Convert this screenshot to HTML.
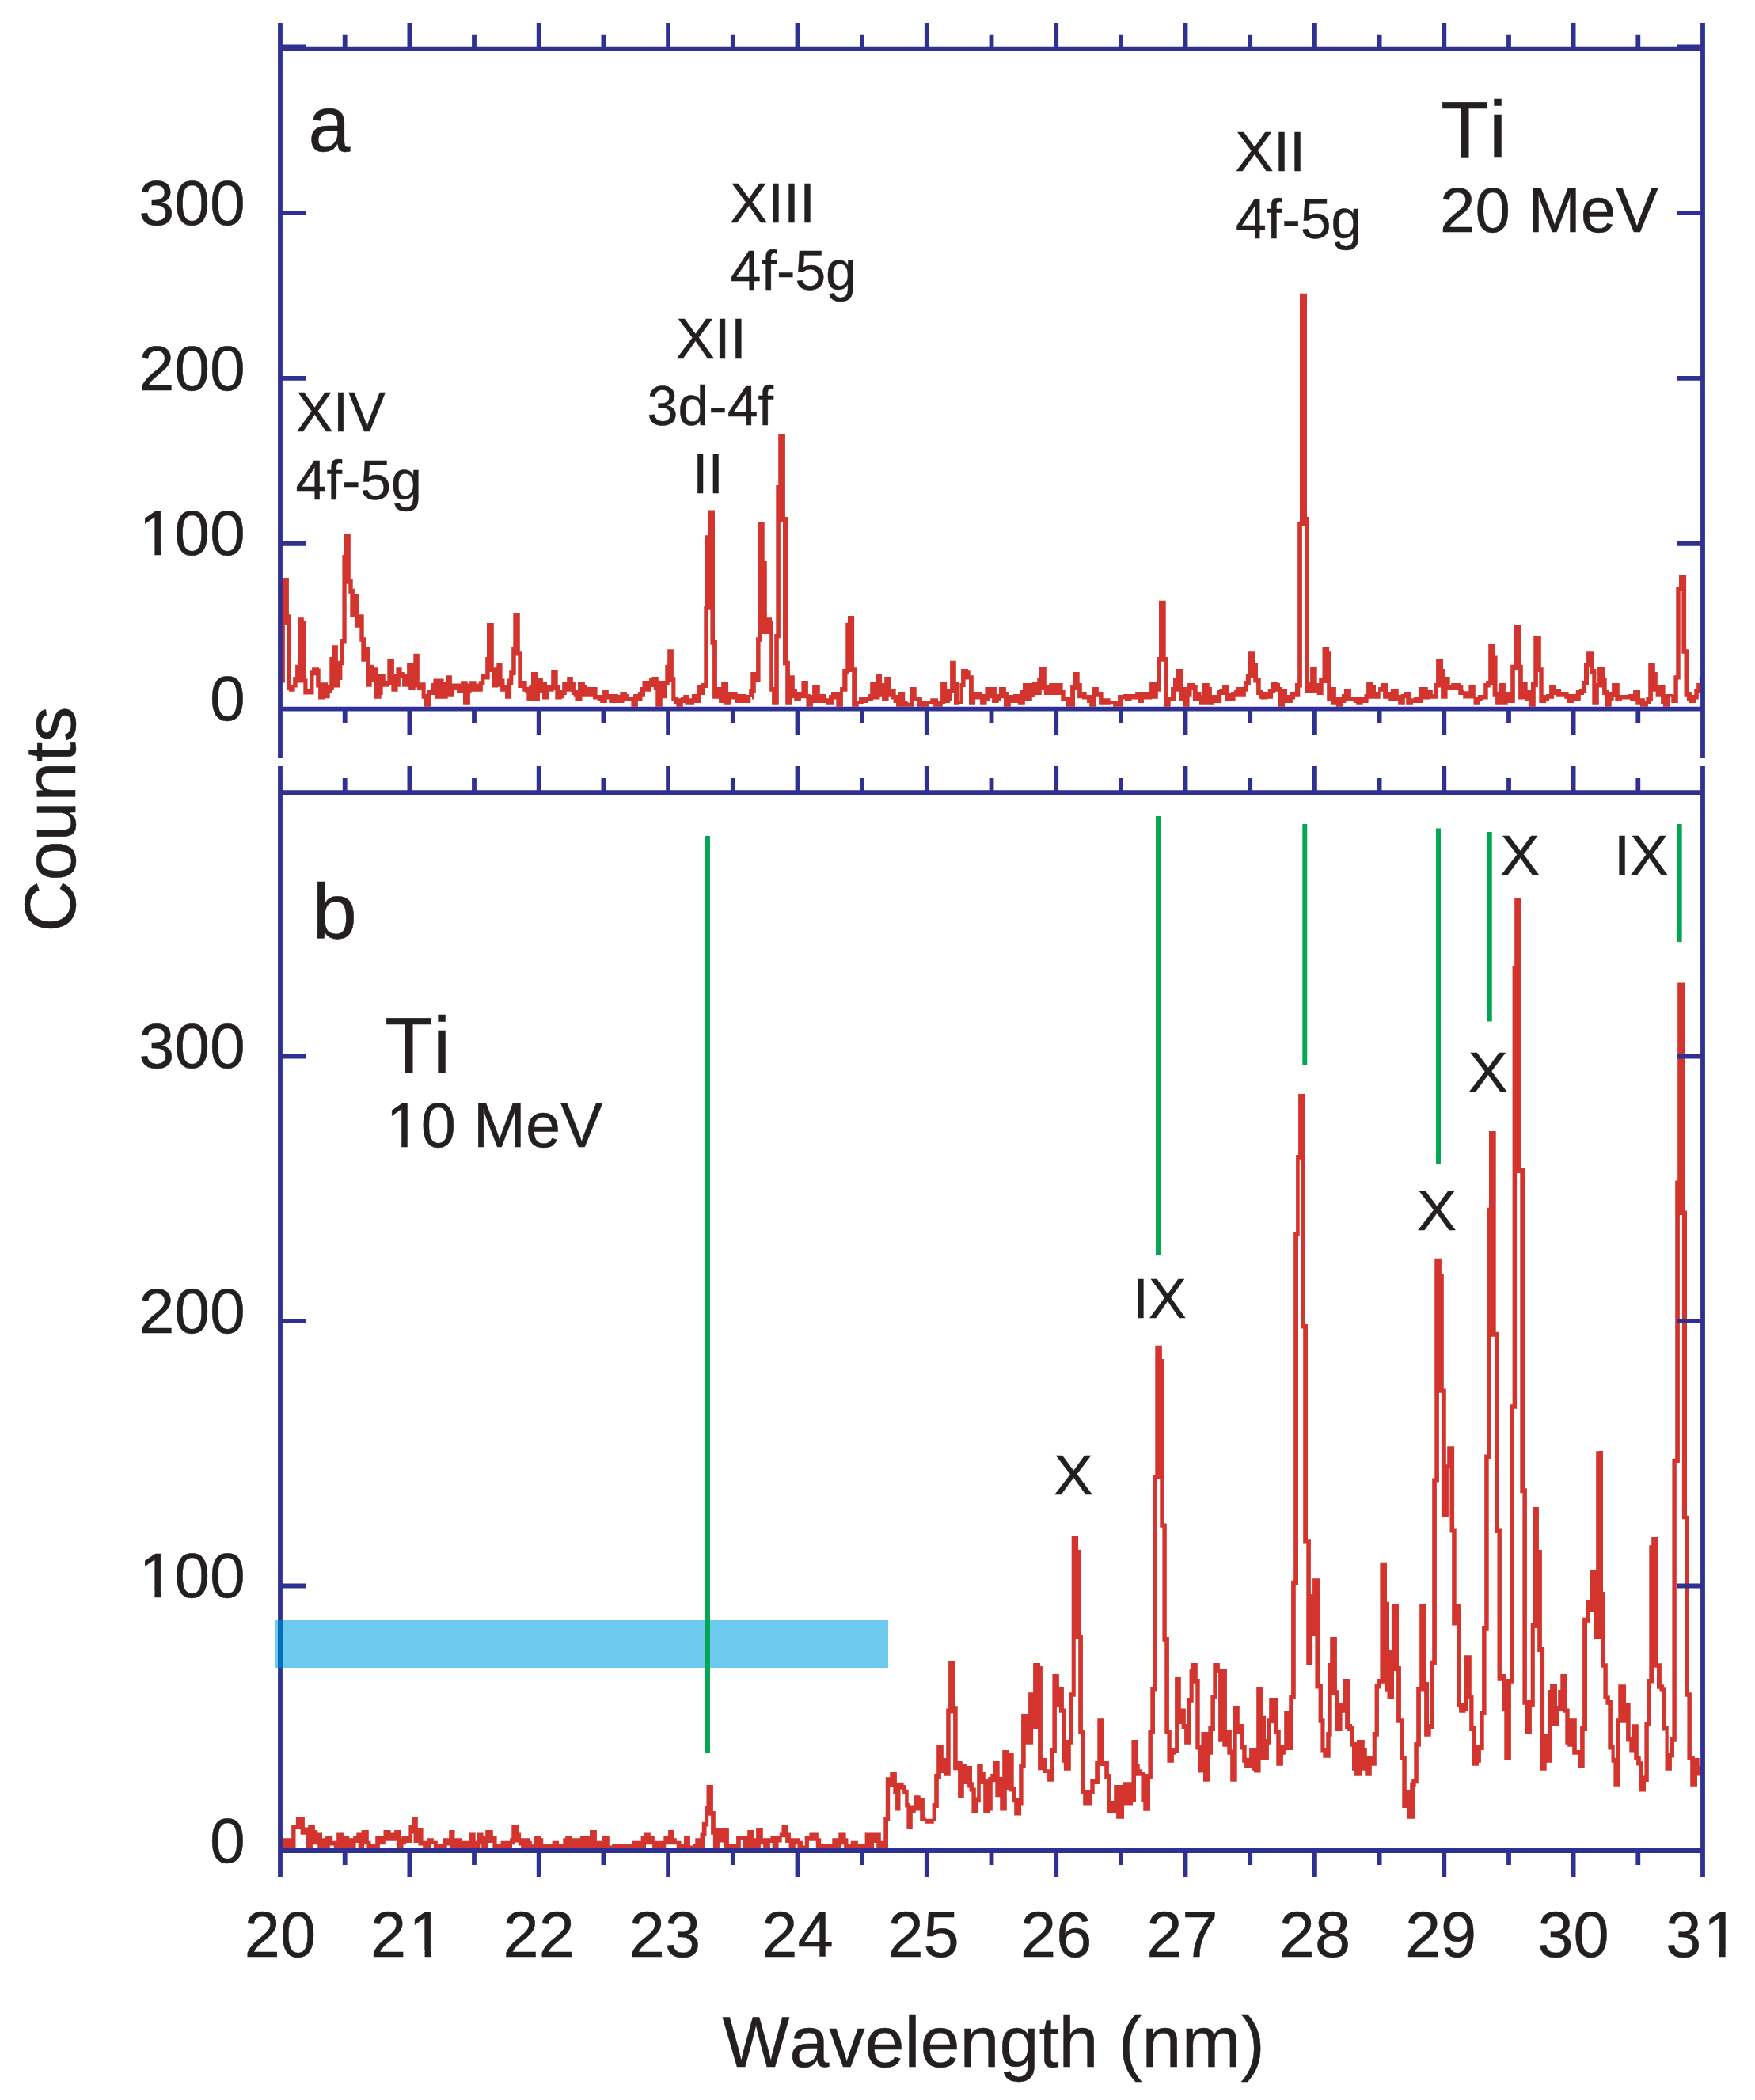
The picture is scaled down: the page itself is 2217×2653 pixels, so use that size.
<!DOCTYPE html>
<html><head><meta charset="utf-8"><title>Ti spectra</title>
<style>html,body{margin:0;padding:0;background:#fff}svg{display:block}</style></head>
<body>
<svg width="2217" height="2653" viewBox="0 0 2217 2653">
<rect width="2217" height="2653" fill="#fff"/>
<rect x="347" y="2046" width="775" height="61" fill="#6fcaf0"/>
<path d="M894 1056V2214M1463 1031V1585M1648.3 1041V1346M1817 1046.5V1470M1881.8 1051V1290.5M2121.7 1041V1190" stroke="#00a650" stroke-width="5.9" fill="none"/>
<path d="M354 730.1L364.9 730.1L364.9 776.2L367.9 776.2L367.9 866L370.2 866L370.2 854.9L373.1 854.9L373.1 839.8L376 839.8L376 780.2L383.8 780.2L383.8 784.3L386.8 784.3L386.8 857.4L388.5 857.4L388.5 870.3L391.5 870.3L391.5 847.2L394.1 847.2L394.1 843.2L403 843.2L403 844.6L404.7 844.6L404.7 862.2L414.1 862.2L414.1 866L416.3 866L416.3 830.1L419.2 830.1L419.2 815.2L426.9 815.2L426.9 834.7L429.5 834.7L429.5 807L432.4 807L432.4 701L434.1 701L434.1 674L442.8 674L442.8 732.1L445.7 732.1L445.7 743.8L447.9 743.8L447.9 751.1L453.8 751.1L453.8 776.2L459.7 776.2L459.7 805.3L462 805.3L462 818.1L467.9 818.1L467.9 839.8L472.7 839.8L472.7 843.2L477.9 843.2L477.9 851.1L486.8 851.1L486.8 860L489.3 860L489.3 832.1L497.9 832.1L497.9 851.1L500.4 851.1L500.4 843.2L507.6 843.2L507.6 848.9L510.7 848.9L510.7 851.1L514.1 851.1L514.1 838.1L522.3 838.1L522.3 825.8L529.8 825.8L529.8 862.2L537.7 862.2L537.7 877.1L539.4 877.1L539.4 872L544.5 872L544.5 863.1L547.4 863.1L547.4 857.4L560.6 857.4L560.6 861.7L563.3 861.7L563.3 853.2L570.9 853.2L570.9 863.4L582.1 863.4L582.1 860.3L590.7 860.3L590.7 863.4L593.1 863.4L593.1 860.3L601.6 860.3L601.6 863.4L604.7 863.4L604.7 860.3L607.3 860.3L607.3 851.1L613.2 851.1L613.2 830.1L615 830.1L615 787L623.8 787L623.8 843.2L627.3 843.2L627.3 837.3L634.6 837.3L634.6 857.4L637.5 857.4L637.5 866L640.6 866L640.6 857.4L643.2 857.4L643.2 847.2L646.2 847.2L646.2 818.1L648.3 818.1L648.3 774.2L650 774.2L656.8 774.2L656.8 823.2L659.7 823.2L659.7 860L665.7 860L665.7 867.7L668.3 867.7L668.3 866L671 866L671 848.9L679.9 848.9L679.9 856.9L685.9 856.9L685.9 862.1L691 862.1L691 866L696.2 866L696.2 846.8L704.7 846.8L704.7 866L707.3 866L707.3 872L710.2 872L710.2 862.1L716.2 862.1L716.2 854.9L723.8 854.9L723.8 862.1L726.9 862.1L726.9 872L730 872L730 862.1L738.9 862.1L738.9 866L741.5 866L741.5 868L754.6 868L754.6 877.9L761.1 877.9L761.1 872L768.8 872L768.8 877.1L780.8 877.1L780.8 877.9L783.3 877.9L783.3 874L791.9 874L791.9 877.1L795 877.1L795 880.2L800.1 880.2L800.1 877.1L805.9 877.1L805.9 874L809 874L809 868L811.5 868L811.5 860L820.1 860L820.1 856.9L823.5 856.9L823.5 854.9L831.7 854.9L831.7 859.1L832.9 859.1L832.9 860L840.3 860L840.3 839.8L843.2 839.8L843.2 820.2L850.9 820.2L850.9 855.2L853.4 855.2L853.4 880.2L856.8 880.2L856.8 882.2L859.9 882.2L859.9 880.2L863.3 880.2L863.3 877.9L870.9 877.9L870.9 882.2L873.9 882.2L873.9 877.1L880.3 877.1L880.3 866L885.6 866L885.6 863.1L889.3 863.1L889.3 765.1L891 765.1L891 676.2L894.4 676.2L894.4 644.4L903 644.4L903 809.1L905.9 809.1L905.9 868L911.2 868L911.2 862.1L920.1 862.1L920.1 874L931.7 874L931.7 877.1L943.2 877.1L943.2 877.9L946.2 877.9L946.2 869.9L948.3 869.9L948.3 848.9L950 848.9L955.1 848.9L955.1 805.3L957.7 805.3L957.7 659L965.7 659L965.7 709.1L968.8 709.1L968.8 780.2L975.1 780.2L975.1 783.9L976.8 783.9L976.8 868L978.2 868L978.2 801L980.3 801L980.3 613L983.2 613L983.2 548L991.9 548L991.9 653L995 653L995 834.7L997.9 834.7L997.9 853.2L1003.8 853.2L1003.8 869.9L1006.9 869.9L1006.9 874L1012.4 874L1012.4 860L1020.9 860L1020.9 877.1L1023.8 877.1L1023.8 877.9L1026.1 877.9L1026.1 866L1035.8 866L1035.8 877.1L1044 877.1L1044 882.2L1047.1 882.2L1047.1 877.9L1050 877.9L1050 874L1061.1 874L1061.1 868L1064.2 868L1064.2 845L1068.3 845L1068.3 786.8L1071 786.8L1071 777.9L1079.1 777.9L1079.1 843.2L1082 843.2L1082 885.6L1085 885.6L1085 880.2L1097 880.2L1097 877.1L1099.2 877.1L1099.2 862.1L1106.1 862.1L1106.1 851.1L1114.1 851.1L1114.1 863.1L1117.2 863.1L1117.2 854.9L1125.7 854.9L1125.7 869.9L1131.7 869.9L1131.7 877.9L1135 877.9L1135 874L1143.2 874L1143.2 885.6L1146.6 885.6L1146.6 887.4L1149.1 887.4L1149.1 868L1157.7 868L1157.7 880.2L1164.9 880.2L1164.9 885.6L1175.3 885.6L1175.3 882.2L1185 882.2L1185 885.6L1188.1 885.6L1188.1 862.1L1196.2 862.1L1196.2 869.9L1200.1 869.9L1200.1 834.7L1207.8 834.7L1207.8 862.1L1211 862.1L1211 885.6L1212.4 885.6L1212.4 863.1L1214.1 863.1L1214.1 845L1223 845L1223 847.2L1225.7 847.2L1225.7 853.2L1229.8 853.2L1229.8 874L1240.6 874L1240.6 877.1L1244.4 877.1L1244.4 868L1250 868L1258.9 868L1258.9 877.1L1262 877.1L1262 868L1270.9 868L1270.9 874L1273.9 874L1273.9 877.9L1279.9 877.9L1279.9 877.1L1289 877.1L1289 872L1291.9 872L1291.9 863.1L1303.8 863.1L1303.8 862.1L1310.2 862.1L1310.2 856.9L1312.9 856.9L1312.9 842.9L1321.8 842.9L1321.8 866L1325.2 866L1325.2 863.1L1342.6 863.1L1342.6 872L1345.7 872L1345.7 880.2L1352.1 880.2L1352.1 866L1355.1 866L1355.1 848.9L1363.7 848.9L1363.7 863.1L1366.8 863.1L1366.8 874L1372.7 874L1372.7 877.9L1379.1 877.9L1379.1 868L1387.9 868L1387.9 874L1393.6 874L1393.6 882.2L1402.6 882.2L1402.6 885.3L1412.1 885.3L1412.1 877.9L1418 877.9L1418 877.1L1434.1 877.1L1434.1 874L1452.1 874L1452.1 862.1L1461.1 862.1L1461.1 830.1L1464 830.1L1464 758.8L1472.7 758.8L1472.7 830.1L1475.6 830.1L1475.6 880.2L1479.1 880.2L1479.1 868L1482 868L1482 856.9L1485 856.9L1485 845L1494.8 845L1494.8 868L1500.1 868L1500.1 863.1L1509.8 863.1L1509.8 866L1512.7 866L1512.7 874L1517.5 874L1517.5 877.9L1518.9 877.9L1518.9 863.1L1527.8 863.1L1527.8 868L1530.9 868L1530.9 877.9L1537.2 877.9L1537.2 872L1540.3 872L1540.3 869.9L1544 869.9L1544 866L1550 866L1552.6 866L1552.6 875.7L1555.1 875.7L1555.1 874L1558.9 874L1558.9 872L1562 872L1562 868L1570.9 868L1570.9 860L1573.9 860L1573.9 851.1L1577 851.1L1577 823.2L1585.9 823.2L1585.9 838.1L1589 838.1L1589 856.9L1592.7 856.9L1592.7 872L1595.8 872L1595.8 874L1601.8 874L1601.8 869.9L1605 869.9L1605 862.1L1614.1 862.1L1614.1 863.1L1617 863.1L1617 868L1620.1 868L1620.1 869.9L1626.1 869.9L1626.1 877.9L1630 877.9L1630 874L1636 874L1636 863.1L1639.2 863.1L1639.2 658.8L1642 658.8L1642 370.8L1651 370.8L1651 653L1653.8 653L1653.8 861.7L1655.1 861.7L1655.1 842.9L1663.7 842.9L1663.7 863.1L1666.2 863.1L1666.2 856.9L1670.5 856.9L1670.5 818.1L1679.1 818.1L1679.1 823.2L1682 823.2L1682 868L1687.9 868L1687.9 880.2L1695 880.2L1695 877.1L1697.9 877.1L1697.9 869.9L1706.9 869.9L1706.9 880.2L1709.8 880.2L1709.8 880.5L1723.5 880.5L1723.5 877.1L1726.1 877.1L1726.1 862.1L1735 862.1L1735 866L1738 866L1738 874L1741.1 874L1741.1 868L1744 868L1744 863.1L1753.9 863.1L1753.9 874L1756.8 874L1756.8 869.9L1766.8 869.9L1766.8 877.9L1769.7 877.9L1769.7 877.1L1773.1 877.1L1773.1 874L1782 874L1782 882.2L1785.9 882.2L1785.9 880.2L1791.9 880.2L1791.9 868L1803.8 868L1803.8 872L1809.8 872L1809.8 877.1L1811 877.1L1811 863.1L1814.1 863.1L1814.1 832.1L1823 832.1L1823 845L1825.7 845L1825.7 854.9L1831.7 854.9L1831.7 865.1L1833.2 865.1L1833.2 863.1L1844.9 863.1L1844.9 866L1848.3 866L1848.3 872L1850 872L1850 873.3L1855.4 873.3L1855.4 866L1863.8 866L1863.8 880.2L1866.8 880.2L1866.8 877.9L1874.2 877.9L1874.2 863.1L1877.1 863.1L1877.1 860L1880.2 860L1880.2 813.8L1888.7 813.8L1888.7 828.4L1891.6 828.4L1891.6 873.7L1893.3 873.7L1893.3 863.1L1901.9 863.1L1901.9 874L1908.2 874L1908.2 839.8L1912.1 839.8L1912.1 789.9L1921 789.9L1921 839.8L1923.8 839.8L1923.8 862.1L1929.7 862.1L1929.7 872L1934 872L1934 862.1L1937.3 862.1L1937.3 803.1L1946.8 803.1L1946.8 843.2L1949.7 843.2L1949.7 877.9L1953.2 877.9L1953.2 877.1L1957.1 877.1L1957.1 866L1966 866L1966 869.9L1972 869.9L1972 874L1981.7 874L1981.7 877.1L1990.8 877.1L1990.8 872L1995 872L1995 869.9L1998.1 869.9L1998.1 860L2001 860L2001 837.3L2004.1 837.3L2004.1 823.2L2013.8 823.2L2013.8 845L2016.4 845L2016.4 863.1L2018.1 863.1L2018.1 842.9L2027 842.9L2027 856.9L2029.7 856.9L2029.7 872L2033 872L2033 874L2036.1 874L2036.1 863.1L2045.8 863.1L2045.8 877.9L2056.2 877.9L2056.2 877.1L2063.1 877.1L2063.1 872L2072 872L2072 882.2L2077.9 882.2L2077.9 885.6L2079.3 885.6L2079.3 880.2L2082.2 880.2L2082.2 838.1L2090.8 838.1L2090.8 848.9L2093.8 848.9L2093.8 866L2103.6 866L2103.6 877.1L2113 877.1L2113 877.9L2114.4 877.9L2114.4 853.2L2117.3 853.2L2117.3 741.2L2121 741.2L2121 726.2L2130.1 726.2L2130.1 820.2L2133 820.2L2133 874L2136.9 874L2136.9 877.9L2140.3 877.9L2140.3 869.9L2143.2 869.9L2143.2 863.1L2146.8 863.1L2146.8 854.9L2151.5 854.9L2151.5 875.7L2145.8 875.7L2145.8 883.6L2142.9 883.6L2142.9 887.9L2134 887.9L2134 885.6L2130.9 885.6L2130.9 879.7L2127.5 879.7L2127.5 825.8L2124.4 825.8L2124.4 746.8L2122.7 746.8L2122.7 858.6L2119.8 858.6L2119.8 887.9L2111.3 887.9L2111.3 879.7L2110.1 879.7L2110.1 892.8L2101 892.8L2101 889.9L2098.1 889.9L2098.1 879.7L2091.6 879.7L2091.6 873.7L2087.9 873.7L2087.9 885.6L2085.6 885.6L2085.6 889.9L2081.9 889.9L2081.9 892.8L2072 892.8L2072 890.8L2066.3 890.8L2066.3 885.6L2059.1 885.6L2059.1 883.6L2048.9 883.6L2048.9 885.6L2040.3 885.6L2040.3 880.5L2038.6 880.5L2038.6 885.6L2035.7 885.6L2035.7 892.8L2027.2 892.8L2027.2 877.9L2024.1 877.9L2024.1 868.5L2019.8 868.5L2019.8 890.8L2011.3 890.8L2011.3 851.1L2008.4 851.1L2008.4 842.9L2007 842.9L2007 866L2004.1 866L2004.1 875.7L2001 875.7L2001 877.9L1996.8 877.9L1996.8 885.6L1987.9 885.6L1987.9 887.9L1979.1 887.9L1979.1 882.7L1976.2 882.7L1976.2 879.7L1966 879.7L1966 877.9L1963.1 877.9L1963.1 882.7L1957.1 882.7L1957.1 885.6L1953.2 885.6L1953.2 887.9L1944.3 887.9L1944.3 848.9L1942.9 848.9L1942.9 868L1939.8 868L1939.8 892.8L1930.9 892.8L1930.9 885.6L1927 885.6L1927 883.6L1918.1 883.6L1918.1 846L1913.8 846L1913.8 887.9L1904.8 887.9L1904.8 890.8L1889.1 890.8L1889.1 879.7L1885.6 879.7L1885.6 866L1882.7 866L1882.7 868.5L1879.7 868.5L1879.7 883.6L1872.8 883.6L1872.8 885.6L1869.7 885.6L1869.7 890.8L1861.5 890.8L1861.5 882.6L1850 882.6L1850 882.7L1848.3 882.7L1848.3 877.9L1842.3 877.9L1842.3 872L1832.1 872L1828.6 872L1828.6 882.7L1820.1 882.7L1820.1 868.5L1816.7 868.5L1816.7 882.7L1806.9 882.7L1806.9 883.6L1797.9 883.6L1797.9 887.9L1785 887.9L1785 890.8L1776.2 890.8L1776.2 882.2L1774.8 882.2L1774.8 890.8L1766.2 890.8L1766.2 885.6L1754.3 885.6L1754.3 882.7L1747.1 882.7L1747.1 873.7L1743.7 873.7L1743.7 882.7L1728.6 882.7L1728.6 887.9L1721.8 887.9L1721.8 890.8L1713.2 890.8L1713.2 887.9L1709.8 887.9L1709.8 885.6L1700.4 885.6L1700.4 887.9L1697 887.9L1697 892.8L1687.9 892.8L1687.9 890.8L1682 890.8L1682 885.6L1676.2 885.6L1676.2 863.1L1671.7 863.1L1671.7 877.9L1663.7 877.9L1663.7 875.7L1648.3 875.7L1648.3 664.8L1644.9 664.8L1644.9 868.5L1642.3 868.5L1642.3 879.7L1636 879.7L1636 883.6L1632.9 883.6L1632.9 887.9L1623 887.9L1623 892.8L1614.1 892.8L1614.1 873.7L1611.2 873.7L1611.2 875.7L1608.1 875.7L1608.1 882.7L1601.3 882.7L1601.3 883.6L1592.7 883.6L1592.7 882.7L1590.2 882.7L1590.2 877.9L1587.1 877.9L1587.1 862.6L1583.3 862.6L1583.3 856.6L1579.9 856.6L1579.9 866L1577 866L1577 873.7L1573.9 873.7L1573.9 879.7L1560.6 879.7L1560.6 885.6L1550 885.6L1547.1 885.6L1547.1 877.9L1543.2 877.9L1543.2 887.9L1533.8 887.9L1533.8 890.8L1515 890.8L1515 885.6L1506.9 885.6L1506.9 872L1505.6 872L1505.6 879.7L1502.6 879.7L1502.6 892.8L1494.4 892.8L1494.4 885.6L1489.3 885.6L1489.3 873.7L1485 873.7L1485 885.6L1478.7 885.6L1478.7 892.8L1470.2 892.8L1470.2 835.7L1466.8 835.7L1466.8 873.7L1462.8 873.7L1462.8 882.7L1455.1 882.7L1455.1 883.6L1444.9 883.6L1444.9 887.9L1437.2 887.9L1437.2 883.6L1429.5 883.6L1429.5 885.6L1420.9 885.6L1420.9 883.6L1418 883.6L1418 892.8L1406.1 892.8L1406.1 889.9L1403 889.9L1403 890.8L1388.1 890.8L1388.1 879.7L1384.7 879.7L1384.7 892.8L1376.2 892.8L1376.2 887.9L1373.1 887.9L1373.1 883.6L1367.1 883.6L1367.1 882.2L1361.1 882.2L1361.1 872L1358 872L1358 892.8L1346.1 892.8L1346.1 885.6L1340.3 885.6L1340.3 877.9L1318.9 877.9L1318.9 872L1315.8 872L1315.8 877.9L1306.9 877.9L1306.9 880.2L1303.8 880.2L1303.8 885.6L1294.8 885.6L1294.8 890.8L1285.9 890.8L1285.9 887.9L1276.8 887.9L1276.8 892.8L1267.9 892.8L1267.9 882.2L1265 882.2L1265 885.6L1261.6 885.6L1261.6 887.9L1253.1 887.9L1253.1 882.2L1250 882.2L1250 885.6L1246.6 885.6L1246.6 890.8L1238 890.8L1238 883.6L1232.1 883.6L1232.1 890.8L1224 890.8L1224 858.6L1219.6 858.6L1219.6 868L1217 868L1217 889.9L1211 889.9L1211 890.8L1205 890.8L1205 875.7L1202.6 875.7L1202.6 885.6L1200.1 885.6L1200.1 887.9L1194.1 887.9L1194.1 889.9L1190.7 889.9L1190.7 892.8L1179.1 892.8L1179.1 889.9L1173.1 889.9L1173.1 892.8L1158.9 892.8L1158.9 885.6L1154.8 885.6L1154.8 892.8L1132.1 892.8L1132.1 887.9L1128.6 887.9L1128.6 883.6L1125.7 883.6L1125.7 879.7L1122.6 879.7L1122.6 885.6L1114.1 885.6L1114.1 879.7L1111.5 879.7L1111.5 883.6L1103 883.6L1103 885.6L1096.7 885.6L1096.7 887.9L1090.7 887.9L1090.7 889.9L1084.7 889.9L1084.7 892.8L1076.2 892.8L1076.2 848.9L1073.1 848.9L1073.1 851.1L1070.5 851.1L1070.5 873.7L1064.9 873.7L1064.9 892.8L1056.3 892.8L1056.3 883.6L1053.1 883.6L1053.1 890.8L1044 890.8L1044 887.9L1026.9 887.9L1026.9 892.8L1018.4 892.8L1018.4 882.2L1011.9 882.2L1011.9 885.6L1003.3 885.6L1003.3 882.2L1000.8 882.2L1000.8 890.8L992.2 890.8L992.2 840.3L989 840.3L989 659L985.9 659L985.9 806.2L983.8 806.2L983.8 890.8L975.1 890.8L975.1 873.7L972.2 873.7L972.2 801L962.8 801L962.8 810.8L960.6 810.8L960.6 860.9L954.8 860.9L954.8 875.7L952.1 875.7L952.1 883.6L950 883.6L950 880.5L948.3 880.5L948.3 887.9L928.1 887.9L928.1 883.6L923 883.6L923 890.8L914.1 890.8L914.1 887.9L908.1 887.9L908.1 882.7L900.1 882.7L900.1 814.7L897.4 814.7L897.4 770.8L895 770.8L895 868.9L891 868.9L891 877.9L885.9 877.9L885.9 887.9L877 887.9L877 890.8L865.4 890.8L865.4 887.9L862.8 887.9L862.8 892.8L854.3 892.8L854.3 889.9L850.9 889.9L850.9 885.6L848.3 885.6L848.3 860.9L845.7 860.9L845.7 866L842.8 866L842.8 882.2L836.8 882.2L836.8 892.8L828.3 892.8L828.3 872L825.7 872L825.7 868L822.6 868L822.6 873.7L815 873.7L815 879.7L811.5 879.7L811.5 885.6L805.9 885.6L805.9 892.8L797.4 892.8L797.4 885.6L788.5 885.6L788.5 887.9L769.3 887.9L769.3 883.6L766.8 883.6L766.8 887.9L758.2 887.9L758.2 885.6L754.6 885.6L754.6 883.6L749.1 883.6L749.1 879.7L735.5 879.7L735.5 885.6L726.4 885.6L726.4 879.7L724.7 879.7L724.7 877.9L721.8 877.9L721.8 873.7L715.8 873.7L715.8 877.9L712.9 877.9L712.9 882.2L709.8 882.2L709.8 883.6L701.3 883.6L701.3 872L699.6 872L699.6 873.7L693.6 873.7L693.6 883.6L685 883.6L685 875.7L682 875.7L682 885.6L665.4 885.6L665.4 875.7L663.3 875.7L663.3 873.7L660.3 873.7L660.3 868.9L654.3 868.9L654.3 828.4L651.7 828.4L651.7 852.8L650 852.8L650 853.2L648.3 853.2L648.3 866L646.1 866L646.1 882.7L638 882.7L638 873.7L632.1 873.7L632.1 867.7L629 867.7L629 868.5L621.3 868.5L621.3 848.9L618.7 848.9L618.7 858.6L612.4 858.6L612.4 866L609.8 866L609.8 873.7L595.6 873.7L595.6 875.7L593.9 875.7L593.9 890.8L585 890.8L585 875.7L577 875.7L577 872L573.9 872L573.9 879.7L565.7 879.7L565.7 882.7L549.1 882.7L549.1 877.9L544.9 877.9L544.9 892.8L535.1 892.8L535.1 882.7L532.6 882.7L532.6 872L526.9 872L526.9 868.5L524.7 868.5L524.7 872L516.2 872L516.2 867.7L508.1 867.7L508.1 856.6L505.9 856.6L505.9 867.7L502.6 867.7L502.6 873.7L494.4 873.7L494.4 866L491.9 866L491.9 867.7L483.7 867.7L483.7 877.9L481.6 877.9L481.6 882.7L472.2 882.7L472.2 860.9L469.7 860.9L469.7 867.7L462 867.7L462 835.7L456.3 835.7L456.3 810.8L454.3 810.8L454.3 792.8L447.9 792.8L447.9 779.7L442.3 779.7L442.3 749.7L440.3 749.7L440.3 737.8L437.7 737.8L437.7 812.5L435 812.5L435 840.3L432.4 840.3L432.4 859.1L430 859.1L430 868.5L421.8 868.5L421.8 872L419.2 872L419.2 875.7L416.7 875.7L416.7 882.2L410.7 882.2L410.7 883.4L402.1 883.4L402.1 868.5L399.2 868.5L399.2 853.2L396.5 853.2L396.5 877.6L383.3 877.6L383.3 862.6L375.6 862.6L375.6 868.5L372.6 868.5L372.6 873.7L365 873.7L365 872L362.3 872L362.3 789.9L359.9 789.9L359.9 862.6L354 862.6Z" fill="#d3342d"/>
<path d="M354 2318.9L358 2318.9L358 2322.3L368.2 2322.3L368.2 2305.2L373.9 2305.2L373.9 2295.4L384.9 2295.4L384.9 2308.6L389.2 2308.6L389.2 2305.2L397.9 2305.2L397.9 2312.1L401.3 2312.1L401.3 2315.5L407 2315.5L407 2322.3L411.1 2322.3L411.1 2318.9L420.2 2318.9L420.2 2325.7L425.2 2325.7L425.2 2315.5L433.9 2315.5L433.9 2318.9L441.2 2318.9L441.2 2322.3L446.2 2322.3L446.2 2318.9L450.3 2318.9L450.3 2315.5L456.7 2315.5L456.7 2312.1L465.8 2312.1L465.8 2325.7L468.5 2325.7L468.5 2329.1L474.2 2329.1L474.2 2318.9L484.5 2318.9L484.5 2312.1L493.6 2312.1L493.6 2315.5L498.1 2315.5L498.1 2312.1L506.1 2312.1L506.1 2322.3L507.3 2322.3L507.3 2318.9L516.4 2318.9L516.4 2305.2L520.5 2305.2L520.5 2295.4L527.8 2295.4L527.8 2309.1L534.6 2309.1L534.6 2325.7L539.2 2325.7L539.2 2322.3L547.8 2322.3L547.8 2325.7L552.8 2325.7L552.8 2329.1L559.2 2329.1L559.2 2322.3L567.2 2322.3L567.2 2312.1L574.5 2312.1L574.5 2322.3L583.6 2322.3L583.6 2325.7L592.1 2325.7L592.1 2315.5L600.7 2315.5L600.7 2325.7L603 2325.7L603 2315.5L610.5 2315.5L610.5 2318.9L613.2 2318.9L613.2 2312.1L622.8 2312.1L622.8 2318.9L627.6 2318.9L627.6 2329.1L632.6 2329.1L632.6 2325.7L644 2325.7L644 2322.3L646.3 2322.3L646.3 2305.2L655.9 2305.2L655.9 2315.5L658.1 2315.5L658.1 2322.3L669.1 2322.3L669.1 2325.7L671.8 2325.7L671.8 2329.1L674.8 2329.1L674.8 2318.9L683.9 2318.9L683.9 2322.3L686.2 2322.3L686.2 2329.1L697.6 2329.1L697.6 2325.7L706 2325.7L706 2329.1L711.3 2329.1L711.3 2322.3L714.2 2322.3L714.2 2318.9L722 2318.9L722 2322.3L732.9 2322.3L732.9 2318.9L745 2318.9L745 2312.1L750 2312.1L753.9 2312.1L753.9 2325.7L760.9 2325.7L760.9 2318.9L769.8 2318.9L769.8 2331.4L773.2 2331.4L773.2 2329.1L798.3 2329.1L798.3 2325.7L809.7 2325.7L809.7 2318.9L813.1 2318.9L813.1 2315.5L821.8 2315.5L821.8 2318.9L826.8 2318.9L826.8 2325.7L838.4 2325.7L838.4 2318.9L844.1 2318.9L844.1 2312.1L851.9 2312.1L851.9 2322.3L854.8 2322.3L854.8 2325.7L860.5 2325.7L860.5 2329.1L864 2329.1L864 2318.9L871.9 2318.9L871.9 2331.4L874.9 2331.4L874.9 2329.1L878.3 2329.1L878.3 2322.3L884.5 2322.3L884.5 2315.5L886.8 2315.5L886.8 2301.8L890.2 2301.8L890.2 2282L892.5 2282L892.5 2255.1L900.9 2255.1L900.9 2288.1L903.8 2288.1L903.8 2309.1L907.3 2309.1L920.9 2309.1L920.9 2329.1L930.1 2329.1L930.1 2318.9L944.2 2318.9L944.2 2312.1L952.8 2312.1L952.8 2322.3L955.1 2322.3L955.1 2309.1L963.8 2309.1L963.8 2322.3L966.5 2322.3L973.4 2322.3L973.4 2318.9L984.8 2318.9L984.8 2315.5L987.5 2315.5L987.5 2305.2L995.7 2305.2L995.7 2315.5L998.9 2315.5L998.9 2322.3L1003 2322.3L1011 2322.3L1011 2325.7L1014.4 2325.7L1014.4 2331.4L1016.7 2331.4L1016.7 2318.9L1022.4 2318.9L1022.4 2315.5L1033.8 2315.5L1033.8 2322.3L1037.2 2322.3L1037.2 2329.1L1051.3 2329.1L1051.3 2322.3L1059.3 2322.3L1059.3 2315.5L1068.6 2315.5L1068.6 2322.3L1071.4 2322.3L1071.4 2329.1L1074.8 2329.1L1074.8 2325.7L1083.9 2325.7L1083.9 2329.1L1092.6 2329.1L1092.6 2315.5L1112.8 2315.5L1112.8 2325.7L1116.3 2325.7L1116.3 2295L1118.8 2295L1118.8 2245.3L1124.2 2245.3L1124.2 2238L1132.9 2238L1132.9 2251.7L1141.6 2251.7L1141.6 2255.1L1145 2255.1L1145 2260.8L1147.7 2260.8L1147.7 2277.9L1150 2277.9L1150 2280.6L1154.2 2280.6L1154.2 2268.3L1162.7 2268.3L1162.7 2271.2L1167.9 2271.2L1167.9 2295.1L1169.6 2295.1L1169.6 2297.7L1177.6 2297.7L1177.6 2278L1180.2 2278L1180.2 2240.9L1183.2 2240.9L1183.2 2205L1191.8 2205L1191.8 2221.1L1195.2 2221.1L1195.2 2158.4L1198.1 2158.4L1198.1 2098L1206 2098L1206 2155.3L1209.7 2155.3L1209.7 2225L1215.7 2225L1215.7 2227.9L1220.9 2227.9L1220.9 2231L1228 2231L1228 2251.2L1229.9 2251.2L1229.9 2258.4L1232.8 2258.4L1232.8 2270.3L1234.2 2270.3L1234.2 2227.9L1241.7 2227.9L1241.7 2238.2L1244.8 2238.2L1244.8 2248.1L1248.2 2248.1L1248.2 2245L1251.3 2245L1251.3 2240.9L1254.2 2240.9L1254.2 2225L1262.7 2225L1262.7 2245L1266.2 2245L1266.2 2211L1274.7 2211L1274.7 2215.1L1280.7 2215.1L1280.7 2258L1283.8 2258L1283.8 2271.2L1287.2 2271.2L1287.2 2227.9L1290.1 2227.9L1290.1 2164.9L1299.1 2164.9L1299.1 2138.2L1305.1 2138.2L1305.1 2101.1L1314 2101.1L1314 2105L1316.9 2105L1316.9 2221.1L1322.9 2221.1L1322.9 2235.3L1326.3 2235.3L1326.3 2207.9L1329.4 2207.9L1329.4 2115.1L1337.9 2115.1L1337.9 2131L1343.9 2131L1343.9 2158.4L1347 2158.4L1347 2198L1350.3 2198L1350.3 2138.2L1353.7 2138.2L1353.7 1940.9L1362.1 1940.9L1362.1 1958L1365 1958L1365 2065.2L1367.9 2065.2L1367.9 2184.9L1370.8 2184.9L1370.8 2260.9L1377.3 2260.9L1377.3 2248.1L1383.2 2248.1L1383.2 2225L1386.3 2225L1386.3 2171.2L1394.9 2171.2L1394.9 2225L1400.9 2225L1400.9 2240.9L1403.8 2240.9L1403.8 2275.1L1407.2 2275.1L1407.2 2255L1418.3 2255L1418.3 2251.2L1420 2251.2L1429.4 2251.2L1429.4 2198L1437.9 2198L1437.9 2227.9L1439.7 2227.9L1439.7 2235.3L1443.1 2235.3L1443.1 2238.2L1447 2238.2L1447 2240.9L1450.4 2240.9L1450.4 2184.9L1453.3 2184.9L1453.3 2131L1456.4 2131L1456.4 1863.1L1459.3 1863.1L1459.3 1699.8L1467.9 1699.8L1467.9 1716.9L1470.8 1716.9L1470.8 1924.6L1473.8 1924.6L1473.8 2068.1L1476.9 2068.1L1476.9 2184.9L1479.8 2184.9L1479.8 2207.9L1484.1 2207.9L1484.1 2117.9L1491.8 2117.9L1491.8 2158.4L1497.8 2158.4L1497.8 2178L1499.5 2178L1499.5 2145L1502.6 2145L1502.6 2107.9L1504.6 2107.9L1504.6 2101.1L1512.8 2101.1L1512.8 2121.1L1515.7 2121.1L1515.7 2205L1517.4 2205L1517.4 2187.9L1526.3 2187.9L1526.3 2180.9L1529.4 2180.9L1529.4 2140.9L1532.3 2140.9L1532.3 2101.1L1540.9 2101.1L1540.9 2107.9L1549.9 2107.9L1549.9 2184.9L1555.9 2184.9L1555.9 2210.5L1557.3 2210.5L1557.3 2155L1565.8 2155L1565.8 2178L1571.8 2178L1571.8 2205L1574.7 2205L1574.7 2220.8L1578.1 2220.8L1578.1 2207.9L1587.2 2207.9L1587.2 2131L1595.7 2131L1595.7 2167.8L1599 2167.8L1599 2196.8L1600.3 2196.8L1600.3 2171.2L1603.2 2171.2L1603.2 2145L1614.9 2145L1614.9 2184.9L1617.8 2184.9L1617.8 2205L1622.2 2205L1622.2 2160.9L1628.2 2160.9L1628.2 2140.9L1631.1 2140.9L1631.1 1996.8L1634.2 1996.8L1634.2 1556L1637.1 1556L1637.1 1458.9L1640.1 1458.9L1640.1 1381.9L1649 1381.9L1649 1673L1652 1673L1652 1944.3L1655.9 1944.3L1655.9 2013.9L1658.1 2013.9L1658.1 1994.3L1667 1994.3L1667 2128.1L1670.9 2128.1L1670.9 2171.2L1673.5 2171.2L1673.5 2207.9L1675.2 2207.9L1675.2 2187.9L1677.3 2187.9L1677.3 2101.1L1680.2 2101.1L1680.2 2068.1L1688.9 2068.1L1688.9 2135.3L1691.8 2135.3L1691.8 2151.2L1696.1 2151.2L1696.1 2121.1L1705 2121.1L1705 2178L1708 2178L1708 2180.9L1710.9 2180.9L1710.9 2201.1L1714 2201.1L1714 2198L1720 2198L1723.8 2198L1723.8 2207.9L1726.8 2207.9L1726.8 2217.9L1733.7 2217.9L1733.7 2187.9L1736.6 2187.9L1736.6 2128.1L1739.7 2128.1L1739.7 2121.1L1743.4 2121.1L1743.4 1973.8L1752 1973.8L1752 2023.8L1755 2023.8L1755 2084.9L1757.9 2084.9L1757.9 2026.8L1767 2026.8L1767 2105L1769.9 2105L1769.9 2171.2L1773.8 2171.2L1773.8 2217.9L1776.8 2217.9L1776.8 2260.9L1781.2 2260.9L1781.2 2251.5L1783.2 2251.5L1783.2 2248.1L1786.3 2248.1L1786.3 2201.1L1789.2 2201.1L1789.2 2131L1793.2 2131L1793.2 2026.8L1801.7 2026.8L1801.7 2125L1805 2125L1805 2178L1806.3 2178L1806.3 2097.7L1809.2 2097.7L1809.2 1867.4L1812.3 1867.4L1812.3 1589.8L1820.9 1589.8L1820.9 1609L1823.8 1609L1823.8 1754.5L1826.8 1754.5L1826.8 1850.3L1828.2 1850.3L1828.2 1827.2L1837.1 1827.2L1837.1 1931.5L1839.7 1931.5L1839.7 2026.8L1846 2026.8L1846 2151.5L1849.1 2151.5L1849.1 2091.2L1858.8 2091.2L1858.8 2140.9L1861.5 2140.9L1861.5 2180.9L1865 2180.9L1865 2205L1869.2 2205L1869.2 2160.9L1872.1 2160.9L1872.1 2054.1L1875.2 2054.1L1875.2 1837.4L1878.1 1837.4L1878.1 1525.7L1881 1525.7L1881 1429L1889.7 1429L1889.7 1682.7L1894 1682.7L1894 1931.5L1896.9 1931.5L1896.9 2115.1L1902.9 2115.1L1902.9 2121.1L1907.5 2121.1L1907.5 1774.2L1910.6 1774.2L1910.6 1220.8L1913.2 1220.8L1913.2 1134.9L1921.7 1134.9L1921.7 1475.9L1926 1475.9L1926 1880.2L1928.9 1880.2L1928.9 2148.1L1933.7 2148.1L1933.7 2051L1936.8 2051L1936.8 1904.1L1943.9 1904.1L1943.9 1957.9L1947.9 1957.9L1947.9 2081.1L1951.1 2081.1L1951.1 2190.9L1955 2190.9L1955 2135L1958.1 2135L1958.1 2128.1L1967 2128.1L1967 2155L1968.2 2155L1968.2 2135L1971.3 2135L1971.3 2115.1L1979.8 2115.1L1979.8 2158.4L1982.7 2158.4L1982.7 2171.2L1991.8 2171.2L1991.8 2211L1996.1 2211L1996.1 2180.9L1999.1 2180.9L1999.1 2043.8L2003.2 2043.8L2003.2 2021.1L2008.9 2021.1L2008.9 1984.1L2016.2 1984.1L2016.2 1833.2L2020 1833.2L2020 1833L2025 1833L2025 2011.1L2027.9 2011.1L2027.9 2101.2L2030.8 2101.2L2030.8 2141.3L2033.8 2141.3L2033.8 2148.1L2036.9 2148.1L2036.9 2205L2039.7 2205L2039.7 2220.8L2041.4 2220.8L2041.4 2171.2L2044.3 2171.2L2044.3 2128.3L2054.1 2128.3L2054.1 2151.1L2059.7 2151.1L2059.7 2194.6L2061.4 2194.6L2061.4 2178.2L2069.8 2178.2L2069.8 2218.2L2072.7 2218.2L2072.7 2225.3L2075.6 2225.3L2075.6 2243.6L2077.4 2243.6L2077.4 2175.1L2080.3 2175.1L2080.3 2121L2083.3 2121L2083.3 1952.2L2086.2 1952.2L2086.2 1942L2094.7 1942L2094.7 2101.2L2098.9 2101.2L2098.9 2128.3L2101.9 2128.3L2101.9 2131.2L2104.8 2131.2L2104.8 2181L2107.7 2181L2107.7 2214.9L2109.6 2214.9L2109.6 2195.1L2112.4 2195.1L2112.4 1842.8L2116.2 1842.8L2116.2 1491.5L2119.2 1491.5L2119.2 1241.6L2128 1241.6L2128 1529.4L2131 1529.4L2131 1914.7L2134 1914.7L2134 2138.3L2136.9 2138.3L2136.9 2218.2L2140.8 2218.2L2140.8 2221.1L2146.7 2221.1L2146.7 2230.9L2153 2230.9L2153 2243.6L2144 2243.6L2144 2256.8L2135.2 2256.8L2135.2 2223.3L2131.4 2223.3L2131.4 2143.8L2128.5 2143.8L2128.5 1919.3L2124.9 1919.3L2124.9 1535L2121.9 1535L2121.9 1848.1L2117.8 1848.1L2117.8 2200.8L2115 2200.8L2115 2220.4L2111.9 2220.4L2111.9 2236.8L2103.5 2236.8L2103.5 2186.6L2099.4 2186.6L2099.4 2136.6L2096.4 2136.6L2096.4 2133.7L2093 2133.7L2093 2106.7L2089.1 2106.7L2089.1 2126.6L2085.9 2126.6L2085.9 2180.7L2082.8 2180.7L2082.8 2250.9L2079 2250.9L2079 2263.5L2070.2 2263.5L2070.2 2230.6L2067.1 2230.6L2067.1 2223.8L2064.2 2223.8L2064.2 2213.5L2058.3 2213.5L2058.3 2200.5L2054.1 2200.5L2054.1 2176.8L2046.8 2176.8L2046.8 2256.8L2038.4 2256.8L2038.4 2226.7L2035.5 2226.7L2035.5 2210.6L2031.3 2210.6L2031.3 2153.7L2028.4 2153.7L2028.4 2146.9L2025.4 2146.9L2025.4 2106.7L2022.3 2106.7L2022.3 2070.8L2020 2070.8L2020 2070.7L2013.2 2070.7L2013.2 2036.5L2008.9 2036.5L2008.9 2049.8L2005 2049.8L2005 2186.9L2001.7 2186.9L2001.7 2233.6L1993.2 2233.6L1993.2 2216.8L1986.2 2216.8L1986.2 2206.8L1980.2 2206.8L1980.2 2203.7L1977.3 2203.7L1977.3 2163.8L1974.2 2163.8L1974.2 2160.9L1969.9 2160.9L1969.9 2180.9L1961 2180.9L1961 2226.8L1953.7 2226.8L1953.7 2236.7L1945.3 2236.7L1945.3 2086.9L1942.2 2086.9L1942.2 2057L1938.8 2057L1938.8 2156.7L1934.9 2156.7L1934.9 2190.9L1926.3 2190.9L1926.3 2153.8L1923.4 2153.8L1923.4 1886.2L1920.3 1886.2L1920.3 1481.9L1916.1 1481.9L1916.1 1779.8L1912.8 1779.8L1912.8 2126.8L1908.9 2126.8L1908.9 2223.7L1900.3 2223.7L1900.3 2160.9L1897.8 2160.9L1897.8 2123.7L1891.5 2123.7L1891.5 1936.9L1888.4 1936.9L1888.4 1688.7L1883.8 1688.7L1883.8 1842.9L1880.7 1842.9L1880.7 2059.7L1877.6 2059.7L1877.6 2166.9L1874.7 2166.9L1874.7 2210.9L1870.9 2210.9L1870.9 2226.8L1867.9 2226.8L1867.9 2230.7L1859.3 2230.7L1859.3 2186.9L1856.2 2186.9L1856.2 2146.4L1855 2146.4L1855 2160.9L1851.6 2160.9L1851.6 2163.8L1843.1 2163.8L1843.1 2156.7L1840.5 2156.7L1840.5 2053.6L1834.2 2053.6L1834.2 1936.6L1831.5 1936.6L1831.5 1855.4L1829.9 1855.4L1829.9 1916.4L1820.9 1916.4L1820.9 1759.7L1817.9 1759.7L1817.9 1872.5L1814.9 1872.5L1814.9 2103.7L1812 2103.7L1812 2184L1807.7 2184L1807.7 2193.8L1799.1 2193.8L1799.1 2136.5L1794.9 2136.5L1794.9 2206.8L1791.8 2206.8L1791.8 2253.2L1788.7 2253.2L1788.7 2256.7L1787 2256.7L1787 2297.7L1776.9 2297.7L1776.9 2284L1771.3 2284L1771.3 2223.8L1768.4 2223.8L1768.4 2176.8L1764.1 2176.8L1764.1 2111L1761 2111L1761 2146.8L1752.5 2146.8L1752.5 2136.7L1749.4 2136.7L1749.4 2126.8L1745.1 2126.8L1745.1 2133.6L1741.9 2133.6L1741.9 2193.8L1738.8 2193.8L1738.8 2230.7L1732.8 2230.7L1732.8 2243.8L1724.3 2243.8L1724.3 2236.7L1720 2236.7L1720 2243.8L1711.1 2243.8L1711.1 2236.7L1708 2236.7L1708 2206.8L1705.1 2206.8L1705.1 2186.9L1702.1 2186.9L1702.1 2184L1699.1 2184L1699.1 2163.8L1695.6 2163.8L1695.6 2186.9L1686.3 2186.9L1686.3 2140.9L1682.7 2140.9L1682.7 2193.8L1680.7 2193.8L1680.7 2220.8L1671.3 2220.8L1671.3 2213.6L1668.4 2213.6L1668.4 2176.8L1665.6 2176.8L1665.6 2133.6L1661.4 2133.6L1661.4 2066.9L1658.1 2066.9L1658.1 2103.7L1650.3 2103.7L1650.3 1949.4L1646.2 1949.4L1646.2 1678.5L1643.3 1678.5L1643.3 1464.7L1641.7 1464.7L1641.7 1561.7L1640 1561.7L1640 2002.3L1636.8 2002.3L1636.8 2146.4L1633.7 2146.4L1633.7 2210.9L1623.9 2210.9L1623.9 2216.8L1620.9 2216.8L1620.9 2230.7L1612.3 2230.7L1612.3 2190.9L1609.2 2190.9L1609.2 2177.2L1606 2177.2L1606 2203.7L1602.9 2203.7L1602.9 2223.8L1592.6 2223.8L1592.6 2239.6L1584.1 2239.6L1584.1 2236.7L1581 2236.7L1581 2233.6L1572.1 2233.6L1572.1 2226.8L1569.2 2226.8L1569.2 2210.5L1566.2 2210.5L1566.2 2190.9L1562.7 2190.9L1562.7 2250.7L1554.2 2250.7L1554.2 2216.8L1550.3 2216.8L1550.3 2206.8L1544.3 2206.8L1544.3 2200.8L1539.1 2200.8L1539.1 2113.9L1537.9 2113.9L1537.9 2146.4L1534.9 2146.4L1534.9 2186.9L1532 2186.9L1532 2216.8L1528.9 2216.8L1528.9 2250.7L1520 2250.7L1520 2239.6L1514 2239.6L1514 2210.5L1510.3 2210.5L1510.3 2126.8L1507.7 2126.8L1507.7 2150.7L1504.6 2150.7L1504.6 2203.7L1496.1 2203.7L1496.1 2184L1492.6 2184L1492.6 2178L1489.7 2178L1489.7 2213.9L1485.8 2213.9L1485.8 2216.8L1482.9 2216.8L1482.9 2226.8L1474.4 2226.8L1474.4 2190.9L1471.3 2190.9L1471.3 2073.8L1468.4 2073.8L1468.4 1929.7L1465.3 1929.7L1465.3 1869.1L1461.9 1869.1L1461.9 2136.5L1459 2136.5L1459 2190.9L1455.9 2190.9L1455.9 2246.9L1453 2246.9L1453 2287.8L1444.3 2287.8L1444.3 2276.7L1441.4 2276.7L1441.4 2243.8L1435 2243.8L1435 2276.7L1431.1 2276.7L1431.1 2280.6L1420 2280.6L1420 2297.7L1410.1 2297.7L1410.1 2290.5L1398.3 2290.5L1398.3 2246.9L1395.2 2246.9L1395.2 2231L1388.9 2231L1388.9 2254.1L1382.7 2254.1L1382.7 2266.6L1379.8 2266.6L1379.8 2280.6L1368.2 2280.6L1368.2 2266.6L1365 2266.6L1365 2190.9L1362.2 2190.9L1362.2 2070.7L1358.8 2070.7L1358.8 2143.8L1355.9 2143.8L1355.9 2203.7L1352.8 2203.7L1352.8 2236.7L1343.9 2236.7L1343.9 2226.8L1341 2226.8L1341 2163.8L1337.9 2163.8L1337.9 2156.7L1334.9 2156.7L1334.9 2213.9L1332 2213.9L1332 2250.7L1323.1 2250.7L1323.1 2239.9L1317.1 2239.9L1317.1 2236.2L1311.1 2236.2L1311.1 2184L1305.1 2184L1305.1 2203.7L1295.7 2203.7L1295.7 2234.1L1292.6 2234.1L1292.6 2280.6L1290.1 2280.6L1290.1 2293.4L1281.2 2293.4L1281.2 2277.2L1278.1 2277.2L1278.1 2263.5L1275.2 2263.5L1275.2 2260.9L1271.8 2260.9L1271.8 2287.4L1263.2 2287.4L1263.2 2270.3L1257.3 2270.3L1257.3 2251.2L1253.8 2251.2L1253.8 2287.4L1250.8 2287.4L1250.8 2290.9L1242.2 2290.9L1242.2 2254.1L1238.8 2254.1L1238.8 2277.2L1235.9 2277.2L1235.9 2290.9L1227.4 2290.9L1227.4 2263.5L1224.6 2263.5L1224.6 2258.4L1222.1 2258.4L1222.1 2254.1L1217.8 2254.1L1217.8 2271.2L1210.1 2271.2L1210.1 2236.2L1204.1 2236.2L1204.1 2164.4L1200.7 2164.4L1200.7 2243.8L1192.1 2243.8L1192.1 2239.9L1188.9 2239.9L1188.9 2246.9L1185.8 2246.9L1185.8 2284L1182.7 2284L1182.7 2300.8L1179.8 2300.8L1179.8 2303.7L1169.1 2303.7L1169.1 2300.8L1162.2 2300.8L1162.2 2287.4L1156.8 2287.4L1156.8 2290.9L1152.8 2290.9L1152.8 2310.9L1150 2310.9L1145.4 2310.9L1145.4 2283.6L1143.2 2283.6L1143.2 2266.5L1140.2 2266.5L1140.2 2260.8L1137.5 2260.8L1137.5 2287.4L1131.1 2287.4L1131.1 2266.5L1128.3 2266.5L1128.3 2256.9L1124.2 2256.9L1124.2 2300.7L1122 2300.7L1122 2337.1L1107.2 2337.1L1107.2 2328L1104 2328L1104 2337.1L1066.1 2337.1L1066.1 2330.3L1062.7 2330.3L1062.7 2337.1L1030.8 2337.1L1030.8 2325.7L1021.9 2325.7L1021.9 2337.1L1007.5 2337.1L1007.5 2330.3L1004.8 2330.3L1004.8 2337.1L996.6 2337.1L996.6 2328L992.1 2328L992.1 2321.2L987.7 2321.2L987.7 2327.5L983.6 2327.5L983.6 2337.1L975.6 2337.1L975.6 2328L972.9 2328L972.9 2337.1L964.2 2337.1L964.2 2330.3L960.8 2330.3L960.8 2337.1L938.7 2337.1L938.7 2324.6L935.8 2324.6L935.8 2337.1L914.6 2337.1L914.6 2327.5L908.9 2327.5L908.9 2337.1L900.9 2337.1L900.9 2317.7L898.1 2317.7L898.1 2293.8L895.2 2293.8L895.2 2307.5L892.5 2307.5L892.5 2320L890.2 2320L890.2 2337.1L854.8 2337.1L854.8 2330.3L841.2 2330.3L841.2 2337.1L824.1 2337.1L824.1 2330.3L816.1 2330.3L816.1 2337.1L750 2337.1L658.1 2337.1L658.1 2331.4L654.7 2331.4L654.7 2327.5L650.4 2327.5L650.4 2330.3L647 2330.3L647 2337.1L622.4 2337.1L622.4 2328L616.7 2328L616.7 2337.1L608.2 2337.1L608.2 2330.3L606.4 2330.3L606.4 2337.1L568.8 2337.1L568.8 2331.4L564.7 2331.4L564.7 2337.1L547.8 2337.1L547.8 2329.1L544.9 2329.1L544.9 2337.1L534.2 2337.1L534.2 2331.4L528.5 2331.4L528.5 2328L522.5 2328L522.5 2316.6L520.5 2316.6L520.5 2328L513 2328L513 2330.3L509.5 2330.3L509.5 2337.1L500.9 2337.1L500.9 2325.7L486.8 2325.7L486.8 2330.3L479.9 2330.3L479.9 2337.1L462.4 2337.1L462.4 2330.3L460.1 2330.3L460.1 2337.1L452.6 2337.1L452.6 2328L449.6 2328L449.6 2337.1L421.8 2337.1L421.8 2331.4L416.8 2331.4L416.8 2337.1L401.3 2337.1L401.3 2330.3L394.9 2330.3L394.9 2337.1L386.5 2337.1L386.5 2317.7L379.6 2317.7L379.6 2310.9L373.5 2310.9L373.5 2337.1L354 2337.1Z" fill="#d3342d"/>
<path d="M354.0 29.0V957.0M2151.0 29.0V957.0M351.1 61.7H2153.9M351.1 895.6H2153.9M354.0 968.0V2371.0M2151.0 968.0V2371.0M351.1 1001.1H2153.9M351.1 2338.0H2153.9M435.7 43.7V61.7M435.7 895.6V913.5M435.7 983V1001.1M435.7 2338.0V2356M517.4 29.0V61.7M517.4 895.6V929M517.4 968.0V1001.1M517.4 2338.0V2371.0M599.0 43.7V61.7M599.0 895.6V913.5M599.0 983V1001.1M599.0 2338.0V2356M680.7 29.0V61.7M680.7 895.6V929M680.7 968.0V1001.1M680.7 2338.0V2371.0M762.4 43.7V61.7M762.4 895.6V913.5M762.4 983V1001.1M762.4 2338.0V2356M844.1 29.0V61.7M844.1 895.6V929M844.1 968.0V1001.1M844.1 2338.0V2371.0M925.8 43.7V61.7M925.8 895.6V913.5M925.8 983V1001.1M925.8 2338.0V2356M1007.5 29.0V61.7M1007.5 895.6V929M1007.5 968.0V1001.1M1007.5 2338.0V2371.0M1089.1 43.7V61.7M1089.1 895.6V913.5M1089.1 983V1001.1M1089.1 2338.0V2356M1170.8 29.0V61.7M1170.8 895.6V929M1170.8 968.0V1001.1M1170.8 2338.0V2371.0M1252.5 43.7V61.7M1252.5 895.6V913.5M1252.5 983V1001.1M1252.5 2338.0V2356M1334.2 29.0V61.7M1334.2 895.6V929M1334.2 968.0V1001.1M1334.2 2338.0V2371.0M1415.9 43.7V61.7M1415.9 895.6V913.5M1415.9 983V1001.1M1415.9 2338.0V2356M1497.5 29.0V61.7M1497.5 895.6V929M1497.5 968.0V1001.1M1497.5 2338.0V2371.0M1579.2 43.7V61.7M1579.2 895.6V913.5M1579.2 983V1001.1M1579.2 2338.0V2356M1660.9 29.0V61.7M1660.9 895.6V929M1660.9 968.0V1001.1M1660.9 2338.0V2371.0M1742.6 43.7V61.7M1742.6 895.6V913.5M1742.6 983V1001.1M1742.6 2338.0V2356M1824.3 29.0V61.7M1824.3 895.6V929M1824.3 968.0V1001.1M1824.3 2338.0V2371.0M1906.0 43.7V61.7M1906.0 895.6V913.5M1906.0 983V1001.1M1906.0 2338.0V2356M1987.6 29.0V61.7M1987.6 895.6V929M1987.6 968.0V1001.1M1987.6 2338.0V2371.0M2069.3 43.7V61.7M2069.3 895.6V913.5M2069.3 983V1001.1M2069.3 2338.0V2356M354.0 686.8h32.5M2151.0 686.8h-32.5M354.0 2003.5h32.5M2151.0 2003.5h-32.5M354.0 477.9h32.5M2151.0 477.9h-32.5M354.0 1669.0h32.5M2151.0 1669.0h-32.5M354.0 269.1h32.5M2151.0 269.1h-32.5M354.0 1334.5h32.5M2151.0 1334.5h-32.5M354.0 59.4h32.5M2151.0 59.4h-32.5" stroke="#2e3192" stroke-width="5.8" fill="none"/>
<rect x="351.1" y="2046" width="5.8" height="61" fill="#0071bc"/>
<g font-family="'Liberation Sans', Arial, Helvetica, sans-serif" fill="#231f20" stroke="#231f20" stroke-width="0.5" style="font-kerning:none">
<text x="309.9" y="910.2" font-size="80.6" text-anchor="end">0</text>
<text x="309.9" y="2352.6" font-size="80.6" text-anchor="end">0</text>
<clipPath id="c1"><path clip-rule="evenodd" d="M-100-100H3000V3000H-100ZM178.6 693.4H195.4V705.4H178.6ZM203.1 693.4H220.6V705.4H203.1Z"/></clipPath>
<text x="309.9" y="701.4" font-size="80.6" text-anchor="end" clip-path="url(#c1)">100</text>
<clipPath id="c2"><path clip-rule="evenodd" d="M-100-100H3000V3000H-100ZM178.6 2010.1H195.4V2022.1H178.6ZM203.1 2010.1H220.6V2022.1H203.1Z"/></clipPath>
<text x="309.9" y="2018.1" font-size="80.6" text-anchor="end" clip-path="url(#c2)">100</text>
<text x="309.9" y="492.5" font-size="80.6" text-anchor="end">200</text>
<text x="309.9" y="1683.6" font-size="80.6" text-anchor="end">200</text>
<text x="309.9" y="283.7" font-size="80.6" text-anchor="end">300</text>
<text x="309.9" y="1349.1" font-size="80.6" text-anchor="end">300</text>
<text x="354.0" y="2472" font-size="81.2" text-anchor="middle">20</text>
<clipPath id="c3"><path clip-rule="evenodd" d="M-100-100H3000V3000H-100ZM519.6 2463.9H536.6V2476.0H519.6ZM544.3 2463.9H561.9V2476.0H544.3Z"/></clipPath>
<text x="468.0" y="2472" font-size="81.2" text-anchor="start" clip-path="url(#c3)">2<tspan dx="3.2">1</tspan></text>
<text x="680.7" y="2472" font-size="81.2" text-anchor="middle">22</text>
<text x="839.9" y="2472" font-size="81.2" text-anchor="middle">23</text>
<text x="1007.5" y="2472" font-size="81.2" text-anchor="middle">24</text>
<text x="1166.6" y="2472" font-size="81.2" text-anchor="middle">25</text>
<text x="1334.2" y="2472" font-size="81.2" text-anchor="middle">26</text>
<text x="1493.3" y="2472" font-size="81.2" text-anchor="middle">27</text>
<text x="1660.9" y="2472" font-size="81.2" text-anchor="middle">28</text>
<text x="1820.1" y="2472" font-size="81.2" text-anchor="middle">29</text>
<text x="1987.6" y="2472" font-size="81.2" text-anchor="middle">30</text>
<clipPath id="c4"><path clip-rule="evenodd" d="M-100-100H3000V3000H-100ZM2154.9 2463.9H2171.9V2476.0H2154.9ZM2179.6 2463.9H2197.2V2476.0H2179.6Z"/></clipPath>
<text x="2104.3" y="2472" font-size="81.2" text-anchor="start" clip-path="url(#c4)">3<tspan dx="2.2">1</tspan></text>
<text x="1255" y="2611" font-size="90" text-anchor="middle">Wavelength (nm)</text>
<text transform="translate(95 1035) rotate(-90)" font-size="90" text-anchor="middle">Counts</text>
<text x="389.5" y="190.5" font-size="100" text-anchor="start" textLength="52.8" lengthAdjust="spacingAndGlyphs">a</text>
<text x="394.3" y="1185" font-size="98" text-anchor="start" textLength="56.8" lengthAdjust="spacingAndGlyphs">b</text>
<text x="1820" y="197.8" font-size="100" text-anchor="start">Ti</text>
<text x="1819" y="292.9" font-size="80" text-anchor="start">20 MeV</text>
<text x="486" y="1354.9" font-size="100" text-anchor="start">Ti</text>
<clipPath id="c5"><path clip-rule="evenodd" d="M-100-100H3000V3000H-100ZM490.7 1441.3H507.2V1453.2H490.7ZM514.7 1441.3H532.0V1453.2H514.7Z"/></clipPath>
<text x="487.5" y="1449.2" font-size="79.4" text-anchor="start" clip-path="url(#c5)">10 MeV</text>
<text x="922.1" y="281.1" font-size="70" text-anchor="start" textLength="107.8" lengthAdjust="spacingAndGlyphs">XIII</text>
<text x="922.5" y="366.4" font-size="70" text-anchor="start">4f-5g</text>
<text x="854.2" y="452.1" font-size="70" text-anchor="start" textLength="88.6" lengthAdjust="spacingAndGlyphs">XII</text>
<text x="817.5" y="537.3" font-size="70" text-anchor="start">3d-4f</text>
<text x="875" y="622.6" font-size="70" text-anchor="start">II</text>
<text x="374" y="545.1" font-size="70" text-anchor="start">XIV</text>
<text x="373.5" y="630.8" font-size="70" text-anchor="start">4f-5g</text>
<text x="1560.6" y="216.2" font-size="70" text-anchor="start" textLength="88.6" lengthAdjust="spacingAndGlyphs">XII</text>
<text x="1561" y="300.6" font-size="70" text-anchor="start">4f-5g</text>
<text x="1895.2" y="1105.4" font-size="70" text-anchor="start" textLength="49.97" lengthAdjust="spacingAndGlyphs">X</text>
<text x="2038.9" y="1105.4" font-size="70" text-anchor="start" textLength="68.8" lengthAdjust="spacingAndGlyphs">IX</text>
<text x="1854.8" y="1379" font-size="70" text-anchor="start" textLength="49.97" lengthAdjust="spacingAndGlyphs">X</text>
<text x="1790.1" y="1553.9" font-size="70" text-anchor="start" textLength="49.97" lengthAdjust="spacingAndGlyphs">X</text>
<text x="1431" y="1664.5" font-size="70" text-anchor="start" textLength="67.6" lengthAdjust="spacingAndGlyphs">IX</text>
<text x="1331" y="1888" font-size="70" text-anchor="start" textLength="49.97" lengthAdjust="spacingAndGlyphs">X</text>
</g>
</svg>
</body></html>
